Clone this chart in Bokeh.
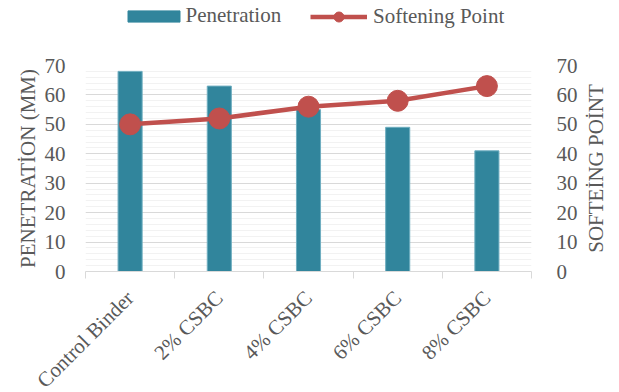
from bokeh.plotting import figure
from bokeh.layouts import row, column
from bokeh.models import (Range1d, LinearAxis, FixedTicker, SingleIntervalTicker,
                          Legend, LegendItem, ColumnDataSource, Label)
from bokeh.embed import file_html
from bokeh.resources import INLINE
import math

# Binder test results
categories = ["Control Binder", "2% CSBC", "4% CSBC", "6% CSBC", "8% CSBC"]
penetration = [68, 63, 55, 49, 41]
softening_point = [50, 52, 56, 58, 63]

FONT = "Liberation Serif"
TEXT = "#595959"
BAR = "#31859C"
LINE = "#C0504D"
H = 366

xs = [i + 0.5 for i in range(len(categories))]
src = ColumnDataSource(dict(x=xs, pen=penetration, sp=softening_point))

p = figure(width=580, height=H, output_backend="svg", toolbar_location=None,
           x_range=Range1d(0, len(categories)), y_range=Range1d(0, 70),
           min_border_left=85, min_border_right=44, min_border_top=25,
           min_border_bottom=135)
p.outline_line_color = None
p.background_fill_color = "white"
p.border_fill_color = "white"
p.extra_y_ranges = {"sp": Range1d(0, 70)}

p.vbar(x="x", top="pen", width=0.27, source=src, fill_color=BAR,
       line_color="#6FAEC0", line_width=1)
p.line(x="x", y="sp", source=src, line_color=LINE, line_width=4.5, y_range_name="sp")
p.scatter(x="x", y="sp", source=src, size=21, fill_color=LINE, line_color=LINE,
          y_range_name="sp")

# x axis: labels at category centres, tick marks on category boundaries
xa = p.xaxis[0]
xa.ticker = FixedTicker(ticks=xs, minor_ticks=list(range(len(categories) + 1)))
xa.major_label_overrides = {x: c for x, c in zip(xs, categories)}
xa.major_label_orientation = math.pi / 4
xa.major_tick_line_color = None
xa.major_tick_out = 0
xa.minor_tick_line_color = "#D9D9D9"
xa.minor_tick_out = 7
xa.minor_tick_in = 0
xa.axis_line_color = "#D9D9D9"
xa.major_label_text_font = FONT
xa.major_label_text_font_size = "21px"
xa.major_label_text_color = TEXT
xa.major_label_standoff = 16

ytick = SingleIntervalTicker(interval=10, num_minor_ticks=5)
ya = p.yaxis[0]
ya.ticker = ytick
ya.axis_label = "PENETRATİON (MM)"
ya.axis_label_text_font = FONT
ya.axis_label_text_font_size = "21px"
ya.axis_label_text_font_style = "normal"
ya.axis_label_text_color = TEXT
ya.axis_label_standoff = 2

ra = LinearAxis(y_range_name="sp", ticker=SingleIntervalTicker(interval=10, num_minor_ticks=5))
p.add_layout(ra, "right")

for ax in (ya, ra):
    ax.axis_line_color = None
    ax.major_tick_line_color = None
    ax.minor_tick_line_color = None
    ax.major_label_text_font = FONT
    ax.major_label_text_font_size = "21px"
    ax.major_label_text_color = TEXT
ya.major_label_standoff = 14
ra.major_label_standoff = 19

p.xgrid.grid_line_color = None
p.ygrid.ticker = ytick
p.ygrid.grid_line_color = "#D9D9D9"
p.ygrid.minor_grid_line_color = "#F2F2F2"

# right-hand title, reading bottom to top
side = figure(width=619 - 580, height=H, output_backend="svg", toolbar_location=None,
              x_range=Range1d(0, 1), y_range=Range1d(0, 70),
              x_axis_location=None, y_axis_location=None,
              min_border_left=0, min_border_right=0, min_border_top=25,
              min_border_bottom=135)
side.outline_line_color = None
side.xgrid.visible = False
side.ygrid.visible = False
side.add_layout(Label(x=15, y=35, x_units="screen", text="SOFTEİNG POİNT",
                      angle=math.pi / 2, text_align="center", text_baseline="middle",
                      text_font=FONT, text_font_size="21px", text_color=TEXT))

# legend strip: the key glyphs share the chart's data but lie outside this view
key = figure(width=580, height=40, output_backend="svg", toolbar_location=None,
             x_range=Range1d(0, len(categories)), y_range=Range1d(100, 101),
             x_axis_location=None, y_axis_location=None,
             min_border_left=85, min_border_right=44, min_border_top=0,
             min_border_bottom=0)
key.outline_line_color = None
key.xgrid.visible = False
key.ygrid.visible = False
key_bar = key.vbar(x="x", top="pen", width=0.27, source=src, fill_color=BAR,
                   line_color=BAR)
key_line = key.line(x="x", y="sp", source=src, line_color=LINE, line_width=4.5)
key_dot = key.scatter(x="x", y="sp", source=src, size=9, fill_color=LINE,
                      line_color=LINE)


def add_key(item, loc, glyph_w, glyph_h, standoff):
    key.add_layout(Legend(items=[item], location=loc, orientation="horizontal",
                          glyph_width=glyph_w, glyph_height=glyph_h,
                          label_height=24, label_standoff=standoff,
                          padding=0, margin=0, spacing=0, border_line_color=None,
                          background_fill_alpha=0, label_text_font=FONT,
                          label_text_font_size="21px", label_text_color=TEXT))


add_key(LegendItem(label="Penetration", renderers=[key_bar]), (35.5, 12), 65, 14, 0)
add_key(LegendItem(label="Softening Point", renderers=[key_line, key_dot]),
        (225, 11.5), 57, 25, 6)

layout = column(key, row(p, side, spacing=0), spacing=0)
open("out.html", "w").write(file_html(layout, INLINE))
